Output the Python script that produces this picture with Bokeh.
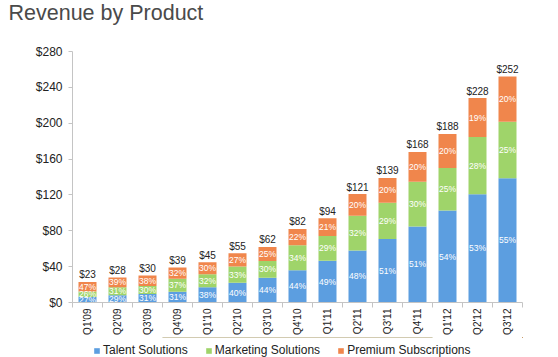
import math
import numpy as np
from bokeh.plotting import figure
from bokeh.layouts import column
from bokeh.models import Range1d, FixedTicker, ColumnDataSource, Legend, LegendItem
from bokeh.core.properties import value
from bokeh.embed import file_html
from bokeh.resources import INLINE

quarters = ["Q1'09", "Q2'09", "Q3'09", "Q4'09", "Q1'10", "Q2'10", "Q3'10", "Q4'10",
            "Q1'11", "Q2'11", "Q3'11", "Q4'11", "Q1'12", "Q2'12", "Q3'12"]
totals = [23, 28, 30, 39, 45, 55, 62, 82, 94, 121, 139, 168, 188, 228, 252]
talent_pct = [27, 29, 31, 31, 38, 40, 44, 44, 49, 48, 51, 51, 54, 53, 55]
marketing_pct = [26, 31, 30, 37, 32, 33, 30, 34, 29, 32, 29, 30, 25, 28, 25]
premium_pct = [47, 39, 38, 32, 30, 27, 25, 22, 21, 20, 20, 20, 20, 19, 20]
series_names = ["Talent Solutions", "Marketing Solutions", "Premium Subscriptions"]
colors = ["#5c9ee0", "#9fd46a", "#f0864c"]
y_ticks = [0, 40, 80, 120, 160, 200, 240, 280]
y_tick_labels = ["$0", "$40", "$80", "$120", "$160", "$200", "$240", "$280"]
chart_title = "Revenue by Product"

FONT = "Liberation Sans"

tot = np.array(totals, dtype=float)
tp = np.array(talent_pct, dtype=float)
mp = np.array(marketing_pct, dtype=float)
pp = np.array(premium_pct, dtype=float)
s = tp + mp + pp
t_val = tot * tp / s
m_val = tot * mp / s
p_val = tot * pp / s
xs = np.arange(len(quarters)) + 0.5

src = ColumnDataSource(dict(x=xs, t=t_val, m=m_val, p=p_val, total=tot,
                            total_lbl=["$%d" % v for v in totals]))

# ---- title strip ----
tf = figure(width=558, height=27, output_backend="svg", toolbar_location=None,
            x_range=Range1d(0, 1), y_range=Range1d(0, 1),
            x_axis_type=None, y_axis_type=None, title=chart_title,
            min_border_left=0, min_border_right=0, min_border_top=0, min_border_bottom=0)
tf.outline_line_color = None
tf.grid.visible = False
tf.title.text_font = FONT
tf.title.text_font_size = "21.5px"
tf.title.text_font_style = "normal"
tf.title.text_color = "#4a4a4a"
tf.title.align = "left"
tf.title.vertical_align = "top"
tf.title.standoff = 0
tf.title.offset = -64

# ---- main chart ----
p = figure(width=558, height=310, output_backend="svg", toolbar_location=None,
           x_range=Range1d(0, len(quarters)), y_range=Range1d(0, 280),
           min_border_left=72, min_border_right=36, min_border_top=24, min_border_bottom=35)
p.outline_line_color = None
p.grid.visible = False
p.background_fill_color = "white"
p.border_fill_color = "white"

rs = p.vbar_stack(["t", "m", "p"], x="x", width=0.6, source=src,
                  color=colors, line_color=None)

# percent labels
bottoms = [np.zeros_like(tot), t_val, t_val + m_val]
vals = [t_val, m_val, p_val]
pcts = [talent_pct, marketing_pct, premium_pct]
for b, v, pc in zip(bottoms, vals, pcts):
    lsrc = ColumnDataSource(dict(x=xs, y=b + v / 2, txt=["%d%%" % q for q in pc]))
    p.text(x="x", y="y", text="txt", source=lsrc, text_align="center",
           text_baseline="middle", text_color="white", text_font=value(FONT),
           text_font_size="8.5px")

p.text(x="x", y="total", text="total_lbl", source=src, text_align="center",
       text_baseline="alphabetic", y_offset=-7, text_color="#222222",
       text_font=value(FONT), text_font_size="10px")

# y axis
ya = p.yaxis[0]
ya.ticker = FixedTicker(ticks=y_ticks)
ya.major_label_overrides = {t: l for t, l in zip(y_ticks, y_tick_labels)}
ya.axis_line_color = "#c4c4c4"
ya.major_tick_line_color = "#c4c4c4"
ya.major_tick_out = 4
ya.major_tick_in = 0
ya.minor_tick_line_color = None
ya.major_label_text_font = FONT
ya.major_label_text_font_size = "12px"
ya.major_label_text_color = "#222222"
ya.major_label_standoff = 6

# x axis
xa = p.xaxis[0]
xa.ticker = FixedTicker(ticks=list(xs), minor_ticks=list(range(len(quarters) + 1)))
xa.major_label_overrides = {float(x): q for x, q in zip(xs, quarters)}
xa.major_label_orientation = math.pi / 2
xa.axis_line_color = "#c4c4c4"
xa.major_tick_line_color = None
xa.major_tick_out = 0
xa.major_tick_in = 0
xa.minor_tick_line_color = "#c4c4c4"
xa.minor_tick_out = 5
xa.minor_tick_in = 0
xa.major_label_text_font = FONT
xa.major_label_text_font_size = "10px"
xa.major_label_text_color = "#222222"
xa.major_label_standoff = 1

# ---- legend strip ----
lg = figure(width=558, height=20, output_backend="svg", toolbar_location=None,
            x_range=Range1d(0, 1), y_range=Range1d(-2, -1),
            x_axis_type=None, y_axis_type=None,
            min_border_left=0, min_border_right=0, min_border_top=0, min_border_bottom=0)
lg.outline_line_color = None
lg.grid.visible = False
# legend swatches (their bars fall outside this strip's range, so only the swatches show)
proxies = [lg.vbar(x="x", top=col, width=0.6, source=src, color=c, line_color=None)
           for col, c in zip(["t", "m", "p"], colors)]

legend = Legend(items=[LegendItem(label=n, renderers=[r]) for n, r in zip(series_names, proxies)],
                orientation="horizontal", location=(21, 0),
                glyph_width=7, glyph_height=7, label_standoff=3, spacing=17,
                padding=2, margin=0, border_line_color=None, background_fill_alpha=0,
                label_text_font=FONT, label_text_font_size="12px",
                label_text_color="#222222", label_height=12)
lg.add_layout(legend)

open("out.html", "w").write(file_html(column(tf, p, lg, spacing=0), INLINE))
